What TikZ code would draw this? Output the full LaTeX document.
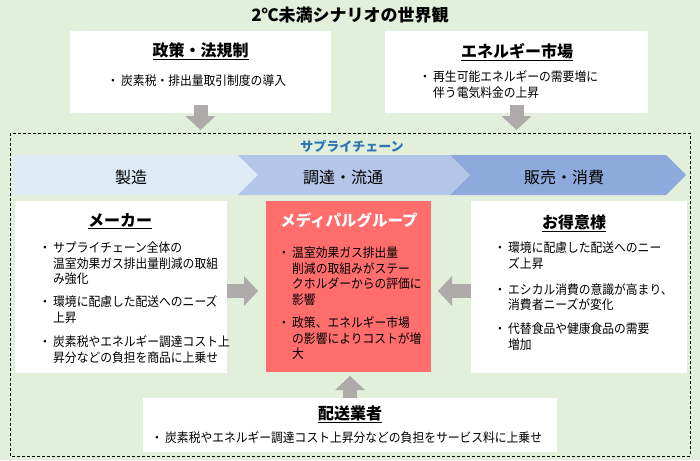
\documentclass[tikz,border=0pt]{standalone}
\usepackage{fontspec}
\setmainfont{Noto Sans CJK JP}
\newfontfamily\bodyjp[FakeStretch=0.92]{Noto Sans CJK JP}
\usetikzlibrary{arrows.meta,calc}
\definecolor{bgc}{HTML}{E2EFDA}
\definecolor{chevA}{HTML}{DDEBF7}
\definecolor{chevB}{HTML}{B4C6E7}
\definecolor{chevC}{HTML}{8EA9DB}
\definecolor{redbox}{HTML}{FF6D6D}
\definecolor{arrowgray}{HTML}{AEAAAA}
\definecolor{chainblue}{HTML}{2E75B6}
\tikzset{
  wbox/.style={fill=white,draw=none,inner sep=0pt,outer sep=0pt},
  rbox/.style={fill=redbox,draw=none,inner sep=0pt,outer sep=0pt},
  bodytext/.style={inner sep=0pt,font=\bodyjp\fontsize{12.8}{15}\selectfont},
  boxtitle/.style={inner sep=0pt,anchor=base,font=\fontsize{16}{19}\selectfont\bfseries},
  chevlabel/.style={inner sep=0pt,anchor=base,font=\fontsize{16}{19}\selectfont},
  blockarrow/.style={draw=arrowgray,line width=14pt,line cap=butt,
    -{Triangle[width=30pt,length=14pt,line width=0pt,fill=arrowgray,color=arrowgray]}},
}
\newcommand{\blist}[4]{%
  \node[bodytext,anchor=base] (#1-dot) at ({#2-8},{#3}) {・};
  \foreach \t [count=\i] in {#4}{%
    \node[bodytext,anchor=base west] (#1-\i) at (#2,{#3+(\i-1)*15.5}) {\t};}}
\begin{document}
\begin{tikzpicture}[x=1pt,y=-1pt]
\useasboundingbox (0,0) rectangle (700,460);
\fill[bgc] (0,0) rectangle (700,460);

% main title
\node[inner sep=0pt,anchor=base,font=\fontsize{17}{20}\selectfont\bfseries] (maintitle) at (350,21.5) {2℃未満シナリオの世界観};

% top boxes
\node[wbox,minimum width=261pt,minimum height=82pt] (policy) at (200.5,72) {};
\node[wbox,minimum width=263pt,minimum height=82pt] (energy) at (516.5,72) {};
\node[boxtitle] (policyT) at (200.5,56.5) {\underline{政策・法規制}};
\node[boxtitle] (energyT) at (517,57.5) {\underline{エネルギー市場}};
\blist{pol}{121}{85.8}{炭素税・排出量取引制度の導入}
\blist{ene}{433}{81.8}{再生可能エネルギーの需要増に,伴う電気料金の上昇}

% dashed supply-chain frame
\draw[line width=0.8pt,dash pattern=on 3pt off 2pt] (10,133) rectangle (690,456);
\node[inner sep=0pt,anchor=base,text=chainblue,font=\fontsize{13}{16}\selectfont\bfseries] (chain) at (352,151) {サプライチェーン};

% top arrows
\coordinate (polEnd) at (200.5,130);
\coordinate (eneEnd) at (516.5,130);
\draw[blockarrow] ([yshift=8pt]policy.south) -- (polEnd);
\draw[blockarrow] ([yshift=8pt]energy.south) -- (eneEnd);

% chevrons
\fill[chevA] (14,155) -- (238,155) -- (258,175) -- (238,195) -- (14,195) -- cycle;
\fill[chevB] (238,155) -- (450,155) -- (470,175) -- (450,195) -- (238,195) -- (258,175) -- cycle;
\fill[chevC] (450,155) -- (666,155) -- (686,175) -- (666,195) -- (450,195) -- (470,175) -- cycle;
\node[chevlabel] (chevA) at (131,183) {製造};
\node[chevlabel] (chevB) at (343,183) {調達・流通};
\node[chevlabel] (chevC) at (564,183) {販売・消費};

% middle boxes
\node[wbox,minimum width=212pt,minimum height=172pt] (maker) at (121,287) {};
\node[rbox,minimum width=165pt,minimum height=171pt] (medi) at (348.5,286.5) {};
\node[wbox,minimum width=216pt,minimum height=172pt] (cust) at (579,287) {};

\node[boxtitle] (makerT) at (120,226) {\underline{メーカー}};
\blist{mk1}{53}{252.8}{サプライチェーン全体の,温室効果ガス排出量削減の取組,み強化}
\blist{mk2}{53}{306.8}{環境に配慮した配送へのニーズ,上昇}
\blist{mk3}{53}{346.8}{炭素税やエネルギー調達コスト上,昇分などの負担を商品に上乗せ}

\node[boxtitle,text=white,font=\fontsize{15.5}{18}\selectfont\bfseries] (mediT) at (349,226) {メディパルグループ};
\blist{md1}{292}{257.8}{温室効果ガス排出量,削減の取組みがステー,クホルダーからの評価に,影響}
\blist{md2}{292}{327.8}{政策、エネルギー市場,の影響によりコストが増,大}

\node[boxtitle] (custT) at (574,228) {\underline{お得意様}};
\blist{cu1}{508}{252.8}{環境に配慮した配送へのニー,ズ上昇}
\blist{cu2}{508}{294.3}{エシカル消費の意識が高まり、,消費者ニーズが変化}
\blist{cu3}{508}{333.8}{代替食品や健康食品の需要,増加}

% bottom box
\node[wbox,minimum width=414pt,minimum height=54pt] (deliv) at (350,425) {};
\node[boxtitle] (delivT) at (350,419) {\underline{配送業者}};
\blist{dl}{165}{442.8}{炭素税やエネルギー調達コスト上昇分などの負担をサービス料に上乗せ}

% side arrows
\draw[blockarrow] ([yshift=-4pt]maker.east) -- ([xshift=-8pt,yshift=-4.5pt]medi.west);
\draw[blockarrow] ([yshift=-4pt]cust.west) -- ([xshift=7pt,yshift=-4.5pt]medi.east);
\draw[blockarrow] (deliv.north) -- ($(deliv.north |- medi.south)+(0,4)$);
\end{tikzpicture}
\end{document}
